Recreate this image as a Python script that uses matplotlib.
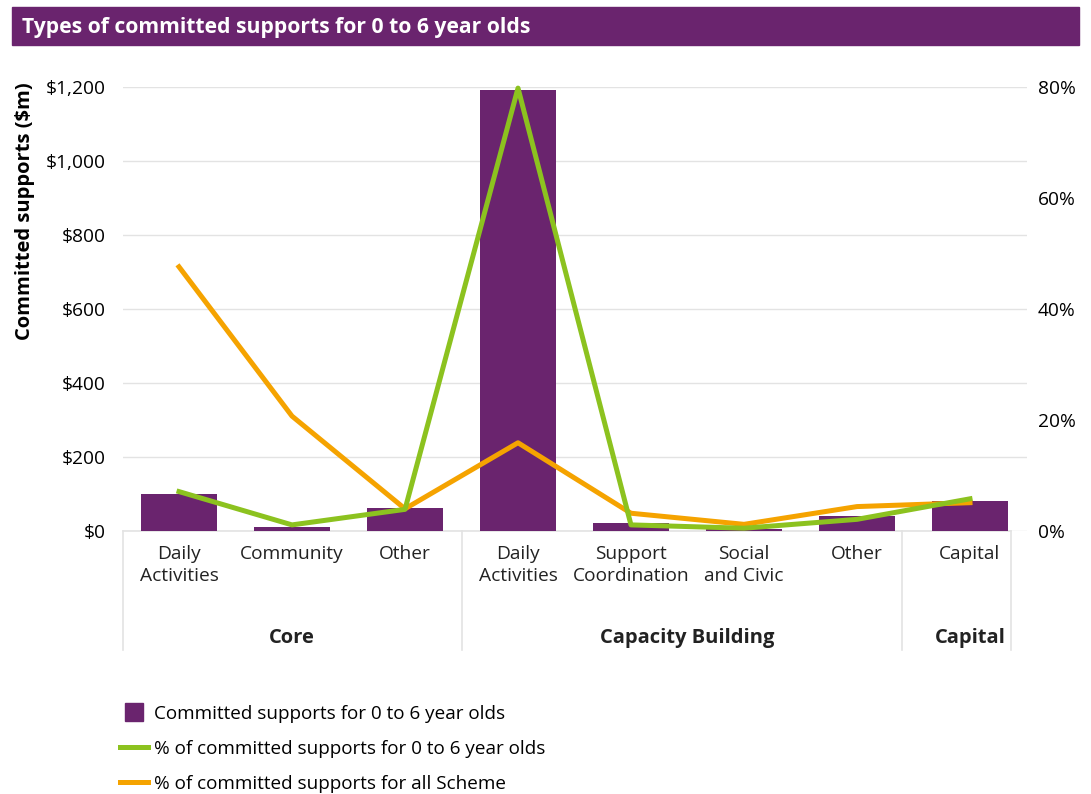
import matplotlib
matplotlib.use('Agg')
import matplotlib.pyplot as plt
from matplotlib.patches import Rectangle
from matplotlib.lines import Line2D
import numpy as np

plt.rcParams['font.family'] = ['Open Sans', 'DejaVu Sans']

# ── data ────────────────────────────────────────────────────────────────────
categories = ['Daily\nActivities', 'Community', 'Other',
              'Daily\nActivities', 'Support\nCoordination', 'Social\nand Civic', 'Other',
              'Capital']
groups = ['Core', 'Capacity Building', 'Capital']
group_span = [(0, 3), (3, 7), (7, 8)]

committed_m = [100, 10, 62, 1192, 22, 6, 41, 81]          # $m
pct_0to6 = [7.1, 1.1, 3.9, 79.8, 1.1, 0.5, 2.1, 5.8]      # %
pct_scheme = [47.6, 20.7, 4.0, 15.9, 3.2, 1.2, 4.4, 5.1]  # %

PURPLE = '#6a246e'
GREEN = '#8cc21f'
ORANGE = '#f5a300'
GRID = '#e3e3e3'

fig = plt.figure(figsize=(10.91, 7.94), dpi=100)

# title band
fig.patches.append(Rectangle((12 / 1091, 1 - 45 / 794), 1067 / 1091, 38 / 794,
                             transform=fig.transFigure, color=PURPLE, zorder=0))
fig.text(22 / 1091, 1 - 27 / 794, 'Types of committed supports for 0 to 6 year olds',
         color='white', fontsize=15.2, fontweight='bold', va='center', ha='left')

ax = fig.add_axes([122.5 / 1091, 1 - 531 / 794, 904 / 1091, 444 / 794])
x = np.arange(len(categories))

ax.bar(x, committed_m, width=0.67, color=PURPLE, zorder=2)
ax.set_xlim(-0.5, len(categories) - 0.5)
ax.set_ylim(0, 1200)
ax.set_yticks(np.arange(0, 1201, 200))
ax.set_yticklabels([f'${v:,}' for v in range(0, 1201, 200)])
ax.yaxis.grid(True, color=GRID, linewidth=1)
ax.set_axisbelow(True)
for s in ax.spines.values():
    s.set_visible(False)
ax.tick_params(axis='y', length=0, labelsize=13.8, pad=12)
ax.set_xticks([])
ax.set_ylabel('Committed supports ($m)', fontsize=14.5, fontweight='bold')
ax.yaxis.set_label_coords(-0.097, 0.72)

ax2 = ax.twinx()
ax2.plot(x, pct_scheme, color=ORANGE, lw=3.6, zorder=3, clip_on=False)
ax2.plot(x, pct_0to6, color=GREEN, lw=3.6, zorder=4, clip_on=False)
ax2.set_ylim(0, 80)
ax2.set_yticks(np.arange(0, 81, 20))
ax2.set_yticklabels([f'{v}%' for v in range(0, 81, 20)])
ax2.tick_params(axis='y', length=0, labelsize=13.8, pad=8)
for s in ax2.spines.values():
    s.set_visible(False)
ax2.set_xlim(-0.5, len(categories) - 0.5)

# category axis with group boxes
tr = ax.get_xaxis_transform()
ax.plot([-0.5, 7.36], [0, 0], color=GRID, lw=1.2, transform=tr, clip_on=False, zorder=1)
for xb in [-0.5, 2.5, 6.4, 7.36]:
    ax.plot([xb, xb], [0, -0.268], color=GRID, lw=1.2, transform=tr, clip_on=False)
for xi, lab in zip(x, categories):
    ax.text(xi, -0.032, lab, transform=tr, ha='center', va='top', fontsize=13.8,
            linespacing=1.3, color='#222222')
for (a, b), g in zip(group_span, groups):
    ax.text((a + b - 1) / 2, -0.24, g, transform=tr, ha='center', va='center',
            fontsize=14.5, fontweight='bold', color='#222222')

handles = [Line2D([], [], color=PURPLE, marker='s', ls='', markersize=13),
           Line2D([], [], color=GREEN, lw=3.6),
           Line2D([], [], color=ORANGE, lw=3.6)]
labels = ['Committed supports for 0 to 6 year olds',
          '% of committed supports for 0 to 6 year olds',
          '% of committed supports for all Scheme']
fig.legend(handles, labels, loc='upper left', bbox_to_anchor=(112 / 1091, 1 - 697 / 794),
           frameon=False, fontsize=13.6, handlelength=1.5,
           handletextpad=0.3, labelspacing=0.9, borderaxespad=0)

fig.savefig('out.png', dpi=100)
